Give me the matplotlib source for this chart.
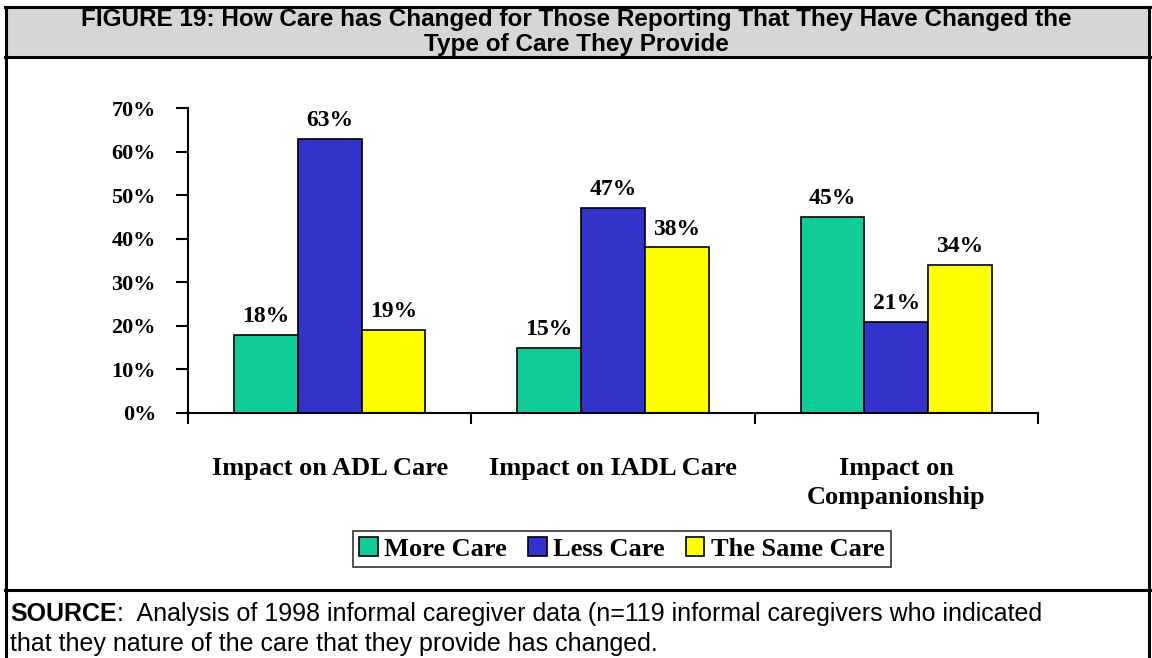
import matplotlib
matplotlib.use("Agg")
import matplotlib.pyplot as plt
import numpy as np
from matplotlib.patches import Rectangle
from matplotlib.lines import Line2D

# data
categories = ["Impact on ADL Care", "Impact on IADL Care", "Impact on\nCompanionship"]
series_names = ["More Care", "Less Care", "The Same Care"]
more_care = [18, 15, 45]
less_care = [63, 47, 21]
same_care = [19, 38, 34]
colors = ["#11cc99", "#3333cc", "#ffff00"]
yticks = [0, 10, 20, 30, 40, 50, 60, 70]

title = ("FIGURE 19: How Care has Changed for Those Reporting That They Have Changed the\n"
         "Type of Care They Provide")
source_line1 = ":  Analysis of 1998 informal caregiver data (n=119 informal caregivers who indicated"
source_line2 = "that they nature of the care that they provide has changed."

W, H = 1152, 658
fig = plt.figure(figsize=(W / 100, H / 100), dpi=100)
fig.patch.set_facecolor("white")

def fx(px):
    return px / W

def fy(py):
    return 1 - py / H

# title band and outer frame
fig.patches.append(Rectangle((fx(5), fy(57)), fx(1148) - fx(5), fy(7) - fy(57),
                             transform=fig.transFigure, facecolor="#d6d6d6",
                             edgecolor="none", zorder=0))
for (x0, y0, x1, y1) in [(5, 7, 1150, 7), (5, 57, 1150, 57), (5, 590, 1150, 590),
                         (6, 7, 6, 658), (1149, 7, 1149, 658)]:
    fig.lines.append(Line2D([fx(x0), fx(x1)], [fy(y0), fy(y1)], transform=fig.transFigure,
                            color="black", lw=2.2))

fig.text(0.5, fy(32), title, ha="center", va="center", fontsize=17.5,
         fontweight="bold", family="Liberation Sans", linespacing=1.08)

serif = "Liberation Serif"
ax = fig.add_axes([fx(188), fy(413), fx(1038) - fx(188), fy(108) - fy(413)])
x = np.arange(len(categories))
width = 0.225
for i, (vals, name) in enumerate(zip([more_care, less_care, same_care], series_names)):
    pos = x + (i - 1) * width
    bars = ax.bar(pos, vals, width, color=colors[i], edgecolor="black", linewidth=1.2,
                  label=name, zorder=2)
    for b, v in zip(bars, vals):
        ax.text(b.get_x() + b.get_width() / 2, v + 1.8, f"{v}%", ha="center",
                va="bottom", fontsize=17, fontweight="bold", family=serif)

ax.set_xlim(-0.5, 2.5)
ax.set_ylim(0, 70)
ax.set_yticks(yticks)
ax.set_yticklabels([f"{t}%" for t in yticks], fontsize=16, fontweight="bold", family=serif)
ax.set_xticks([-0.5, 0.5, 1.5, 2.5])
ax.set_xticklabels([])
ax.set_xticks(x, minor=True)
ax.set_xticklabels(categories, minor=True, fontsize=19, fontweight="bold", family=serif,
                   linespacing=1.3)
ax.tick_params(axis="x", which="minor", length=0, pad=32)
ax.tick_params(axis="x", which="major", direction="out", length=8, width=1.5)
ax.tick_params(axis="y", direction="out", length=9, width=1.5, pad=14)
for s in ["top", "right"]:
    ax.spines[s].set_visible(False)
for s in ["left", "bottom"]:
    ax.spines[s].set_linewidth(1.5)

leg = ax.legend(loc="center", bbox_to_anchor=(fx(622), fy(549)),
                bbox_transform=fig.transFigure, ncol=3, frameon=True, fancybox=False,
                prop={"family": serif, "weight": "bold", "size": 19},
                handlelength=0.7, handleheight=0.7, handletextpad=0.25,
                columnspacing=0.8, borderpad=0.25, borderaxespad=0)
leg.get_frame().set_edgecolor("black")
leg.get_frame().set_linewidth(1.2)

t_src = fig.text(fx(10), fy(626), "SOURCE", ha="left", va="bottom", fontsize=18,
                 fontweight="bold", family="Liberation Sans")
fig.text(fx(10), fy(656), source_line2, ha="left", va="bottom", fontsize=18,
         family="Liberation Sans")
ax.annotate(source_line1, xy=(1, 0), xycoords=t_src, ha="left",
            va="bottom", fontsize=18, family="Liberation Sans", annotation_clip=False)

fig.savefig("out.png", dpi=100)
